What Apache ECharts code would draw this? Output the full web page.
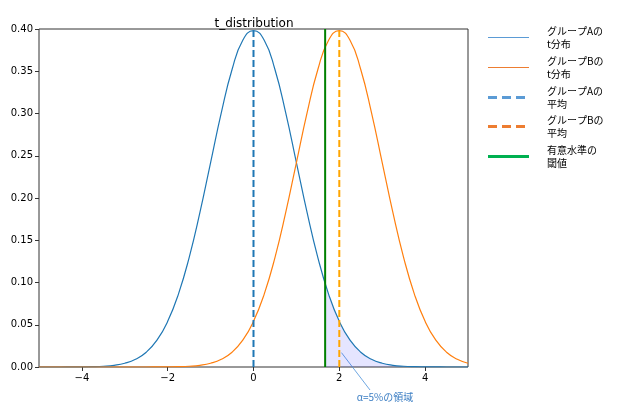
<!DOCTYPE html>
<html><head><meta charset="utf-8">
<script src="https://cdn.jsdelivr.net/npm/echarts@6/dist/echarts.min.js"></script>
<style>html,body{margin:0;padding:0;background:#fff}#c{width:623px;height:411px}</style>
</head><body><div id="c"></div>
<script>
// x grid for curves
const xs = [-5,-4.75,-4.5,-4.25,-4,-3.75,-3.5,-3.25,-3,-2.75,-2.5,-2.25,-2,-1.75,-1.5,-1.25,-1,-0.75,-0.5,-0.25,0,0.25,0.5,0.75,1,1.25,1.5,1.75,2,2.25,2.5,2.75,3,3.25,3.5,3.75,4,4.25,4.5,4.75,5];
// group A t distribution density
const densA = [0.0000,0.0000,0.0000,0.0001,0.0002,0.0004,0.0009,0.0020,0.0044,0.0091,0.0175,0.0317,0.0540,0.0863,0.1295,0.1826,0.2420,0.3011,0.3521,0.3867,0.3980,0.3867,0.3521,0.3011,0.2420,0.1826,0.1295,0.0863,0.0540,0.0317,0.0175,0.0091,0.0044,0.0020,0.0009,0.0004,0.0002,0.0001,0.0000,0.0000,0.0000];
// group B t distribution density
const densB = [0.0000,0.0000,0.0000,0.0000,0.0000,0.0000,0.0000,0.0000,0.0000,0.0000,0.0000,0.0001,0.0002,0.0004,0.0009,0.0020,0.0044,0.0091,0.0175,0.0317,0.0540,0.0863,0.1295,0.1826,0.2420,0.3011,0.3521,0.3867,0.3980,0.3867,0.3521,0.3011,0.2420,0.1826,0.1295,0.0863,0.0540,0.0317,0.0175,0.0091,0.0044];
const meanA = 0, meanB = 2, peakA = 0.3980, peakB = 0.3980;
const threshold = 1.67, thresholdDensity = 0.0970, thresholdTop = 0.40;
const xTicks = [-4,-2,0,2,4];
const legendLabels = ['グループAの\nt分布','グループBの\nt分布','グループAの\n平均','グループBの\n平均','有意水準の\n閾値'];
const annotationText = 'α=5%の領域';
const annotationPoint = [2.05, 0.017];

const lineA = xs.map((x,i)=>[x,densA[i]]);
const lineB = xs.map((x,i)=>[x,densB[i]]);
const areaData = [[threshold, thresholdDensity]].concat(lineA.filter(p=>p[0]>threshold));
const fmtMinus = v => String(v).replace('-', '\u2212');

const chart = echarts.init(document.getElementById('c'));
const FONT = 'DejaVu Sans';
chart.setOption({
  animation:false,
  title:{text:'t_distribution', left:249, top:13, textAlign:'center',
    textStyle:{fontSize:12, fontWeight:'normal', color:'#000', fontFamily:FONT}},
  grid:{left:39, right:155, top:29, bottom:44, show:true, borderColor:'#333', borderWidth:1, backgroundColor:'transparent'},
  xAxis:{type:'value', min:-5, max:5, splitLine:{show:false},
    axisLine:{show:false, onZero:false},
    axisTick:{show:true, length:4, customValues:xTicks, lineStyle:{color:'#333'}},
    axisLabel:{customValues:xTicks, formatter:fmtMinus, color:'#000', fontSize:10, fontFamily:FONT, margin:6}},
  yAxis:{type:'value', min:0, max:0.4, interval:0.05, splitLine:{show:false},
    axisLine:{show:false, onZero:false},
    axisTick:{show:true, length:4, lineStyle:{color:'#333'}},
    axisLabel:{formatter:v=>v.toFixed(2), color:'#000', fontSize:10, fontFamily:FONT, margin:6}},
  series:[
    {type:'line', data:areaData, smooth:true, showSymbol:false, lineStyle:{width:0}, areaStyle:{color:'rgba(0,0,255,0.1)', opacity:1}, z:1},
    {type:'line', data:lineA, smooth:true, showSymbol:false, lineStyle:{color:'#1f77b4', width:1.2}, z:3},
    {type:'line', data:lineB, smooth:true, showSymbol:false, lineStyle:{color:'#ff7f0e', width:1.2}, z:3},
    {type:'line', data:[[meanA,0],[meanA,peakA]], showSymbol:false, lineStyle:{color:'#1f77b4', width:2, type:[7,3]}, z:4},
    {type:'line', data:[[meanB,0],[meanB,peakB]], showSymbol:false, lineStyle:{color:'#ffa500', width:2, type:[7,3]}, z:4},
    {type:'line', data:[[threshold,0],[threshold,thresholdTop]], showSymbol:false, lineStyle:{color:'#008000', width:2}, z:4}
  ]
});

// annotation + legend
const p = chart.convertToPixel({gridIndex:0}, annotationPoint);
const tx = 385, ty = 397;
const legendStyles = [
  {color:'#5b9bd5', w:1, dash:null},
  {color:'#ed7d31', w:1, dash:null},
  {color:'#5b9bd5', w:3, dash:[9,5]},
  {color:'#ed7d31', w:3, dash:[9,5]},
  {color:'#00b050', w:3, dash:null}
];
const lg = [];
legendLabels.forEach((lab,i)=>{
  const y = Math.round(37 + i*29.8) + (legendStyles[i].w % 2 ? 0.5 : 0);
  const s = legendStyles[i];
  lg.push({type:'line', shape:{x1:488,y1:y,x2:529,y2:y}, style:{stroke:s.color, lineWidth:s.w, lineDash:s.dash}});
  lg.push({type:'text', left:547, top:Math.round(y)-13, style:{text:lab, fill:'#000', font:'10px "Noto Sans CJK JP"', lineHeight:13}});
});
chart.setOption({graphic:[
  {type:'line', shape:{x1:tx-15, y1:ty-7, x2:p[0], y2:p[1]}, style:{stroke:'#4a90d9', lineWidth:0.8}},
  {type:'text', x:tx, y:ty, style:{text:annotationText, fill:'#3d7fc4', font:'10px "Noto Sans CJK JP"', textAlign:'center', textVerticalAlign:'middle'}}
].concat(lg)});
</script></body></html>
